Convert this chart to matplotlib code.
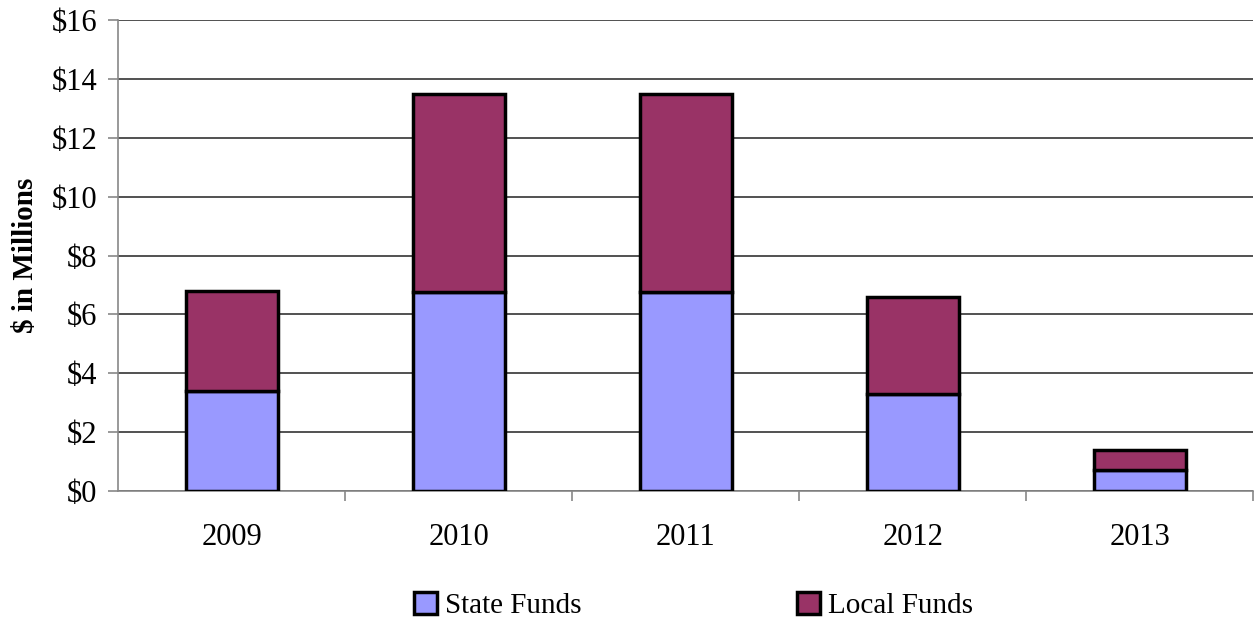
import numpy as np
import matplotlib.pyplot as plt
from matplotlib.ticker import FuncFormatter

years = ["2009", "2010", "2011", "2012", "2013"]
state_funds = [3.4, 6.75, 6.75, 3.28, 0.7]
local_funds = [3.4, 6.75, 6.75, 3.31, 0.69]

plt.rcParams["font.family"] = ["Liberation Serif", "DejaVu Serif"]

fig = plt.figure(figsize=(12.56, 6.18), dpi=100)
ax = fig.add_axes([0.094, 0.2055, 0.904, 0.762])

x = np.arange(len(years))
w = 0.405
ax.bar(x, state_funds, w, color="#9999FF", edgecolor="black", linewidth=2.5,
       label="State Funds", zorder=3)
ax.bar(x, local_funds, w, bottom=state_funds, color="#993366", edgecolor="black",
       linewidth=2.5, label="Local Funds", zorder=3)

ax.set_xlim(-0.5, len(years) - 0.5)
ax.set_ylim(0, 16)
ax.set_yticks(np.arange(0, 17, 2))
ax.yaxis.set_major_formatter(FuncFormatter(lambda v, p: "$%d" % v))
ax.yaxis.grid(True, color="#222222", linewidth=1.1, zorder=0)

ax.set_xticks(x)
ax.set_xticklabels(years)
ax.set_xticks(np.arange(0.5, len(years), 1), minor=True)
ax.tick_params(axis="x", which="major", length=0, pad=23, labelsize=22)
ax.tick_params(axis="x", which="minor", length=7, color="#888888", width=1.2)
ax.tick_params(axis="y", length=7, color="#888888", width=1.2, labelsize=22, pad=8)

for s in ["top", "right"]:
    ax.spines[s].set_visible(False)
ax.spines["left"].set_color("#888888")
ax.spines["left"].set_linewidth(1.2)
ax.spines["bottom"].set_color("#888888")
ax.spines["bottom"].set_linewidth(1.2)

ax.set_ylabel("$ in Millions", fontsize=21, fontweight="bold", labelpad=9)

fig.legend(loc="center", bbox_to_anchor=(0.552, 0.02), ncol=2, frameon=False,
           fontsize=21, handlelength=0.8, handleheight=0.8, handletextpad=0.25,
           columnspacing=7.4, borderaxespad=0)

fig.savefig("out.png", dpi=100)
